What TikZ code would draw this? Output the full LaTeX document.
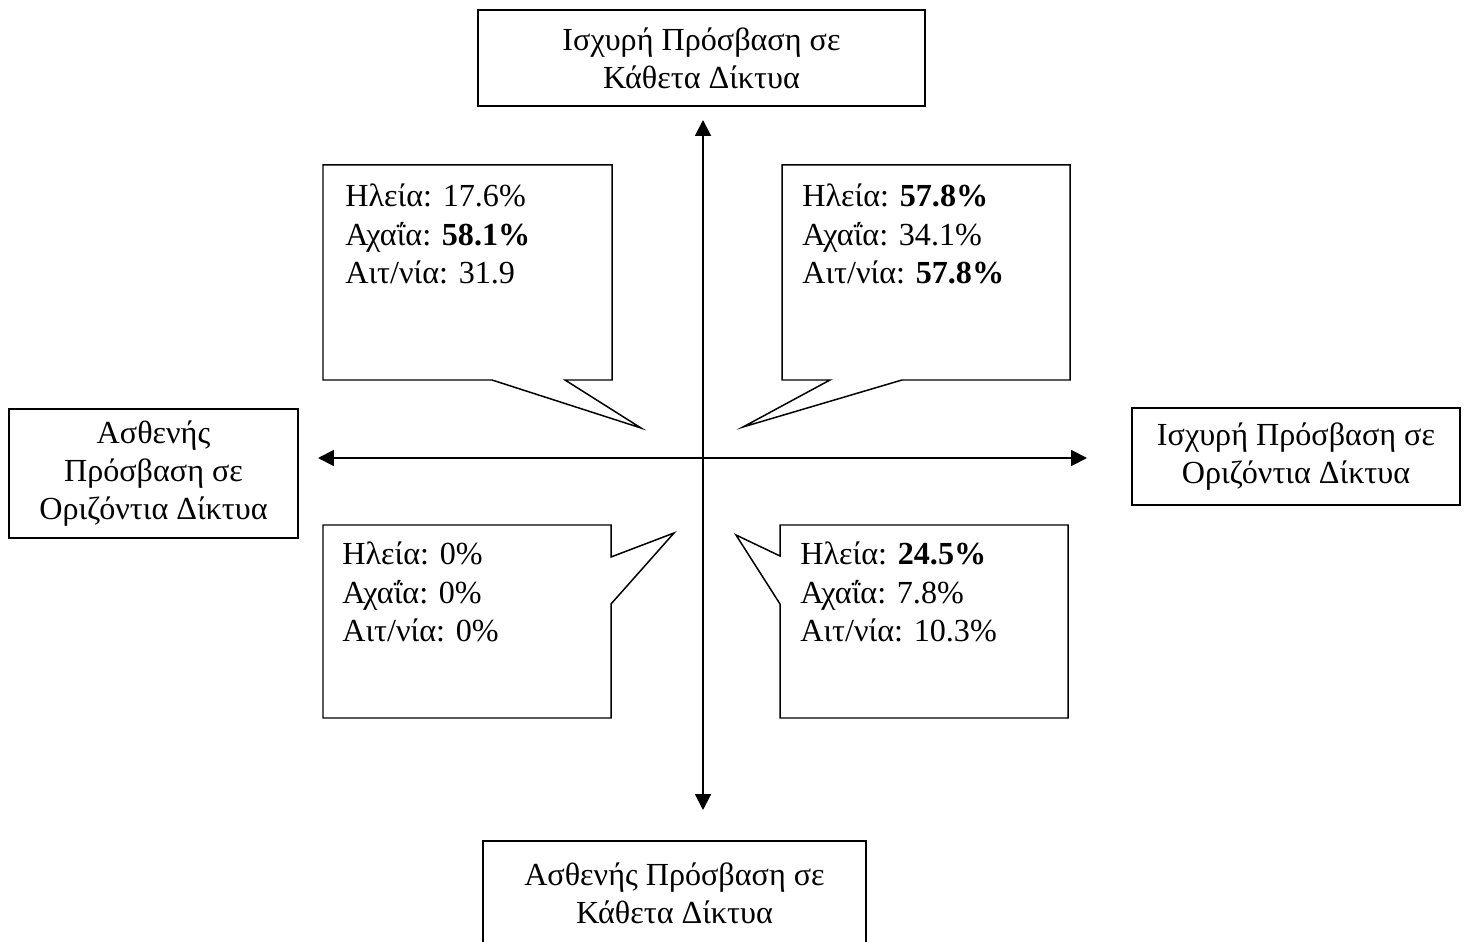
\documentclass[tikz,border=0pt]{standalone}
\usepackage{fontspec}
\setmainfont{Liberation Serif}
\usetikzlibrary{arrows.meta}
\begin{document}
\begin{tikzpicture}[x=0.02cm,y=-0.02cm,
  font=\fontsize{18.3}{21.8}\selectfont,
  labelbox/.style={draw, line width=0.85pt, align=center, inner sep=0pt},
  bubble/.style={draw, line width=0.85pt, line join=miter},
  axis/.style={line width=1.1pt,
    {Triangle[length=9pt,width=9pt]}-{Triangle[length=9pt,width=9pt]}},
  entry/.style={anchor=base west, inner sep=0pt}
]
\useasboundingbox (0,0) rectangle (1465,942);

% end labels of the two axes
\node[labelbox, minimum width=8.94cm, minimum height=1.92cm] (strongV) at (701.5,58)
  {Ισχυρή Πρόσβαση σε\\Κάθετα Δίκτυα};
\node[labelbox, minimum width=7.66cm, minimum height=2.1cm] (weakV) at (674.5,893.5)
  {Ασθενής Πρόσβαση σε\\Κάθετα Δίκτυα};
\node[labelbox, minimum width=5.78cm, minimum height=2.58cm] (weakH) at (153.5,473.5)
  {Ασθενής\\Πρόσβαση σε\\Οριζόντια Δίκτυα};
\node[labelbox, minimum width=6.56cm, minimum height=1.94cm] (strongH) at (1296,456.5)
  {Ισχυρή Πρόσβαση σε\\Οριζόντια Δίκτυα};

% axes
\coordinate (axN) at (703,120);
\coordinate (axS) at (703,810);
\coordinate (axW) at (318,458);
\coordinate (axE) at (1087,458);
\draw[axis] (axN) -- (axS);
\draw[axis] (axW) -- (axE);

% speech bubbles, one per quadrant
\draw[bubble] (323,165) -- (612,165) -- (612,380) -- (565,380) -- (641,428)
  -- (492,380) -- (323,380) -- cycle;
\draw[bubble] (782,165) -- (1070,165) -- (1070,380) -- (902,380) -- (743,427)
  -- (830,380) -- (782,380) -- cycle;
\draw[bubble] (323,525) -- (611,525) -- (611,557) -- (674,533) -- (611,604)
  -- (611,718) -- (323,718) -- cycle;
\draw[bubble] (780,525) -- (1068,525) -- (1068,718) -- (780,718) -- (780,604)
  -- (736,535) -- (780,556) -- cycle;

% upper left
\node[entry] (tl1) at (345,207) {Ηλεία: 17.6\%};
\node[entry] (tl2) at (345,245.5) {Αχαΐα: \textbf{58.1\%}};
\node[entry] (tl3) at (345,284) {Αιτ/νία: 31.9};
% upper right
\node[entry] (tr1) at (802,207) {Ηλεία: \textbf{57.8\%}};
\node[entry] (tr2) at (802,245.5) {Αχαΐα: 34.1\%};
\node[entry] (tr3) at (802,284) {Αιτ/νία: \textbf{57.8\%}};
% lower left
\node[entry] (bl1) at (342,565) {Ηλεία: 0\%};
\node[entry] (bl2) at (342,603.5) {Αχαΐα: 0\%};
\node[entry] (bl3) at (342,642) {Αιτ/νία: 0\%};
% lower right
\node[entry] (br1) at (800,565) {Ηλεία: \textbf{24.5\%}};
\node[entry] (br2) at (800,603.5) {Αχαΐα: 7.8\%};
\node[entry] (br3) at (800,642) {Αιτ/νία: 10.3\%};
\end{tikzpicture}
\end{document}
